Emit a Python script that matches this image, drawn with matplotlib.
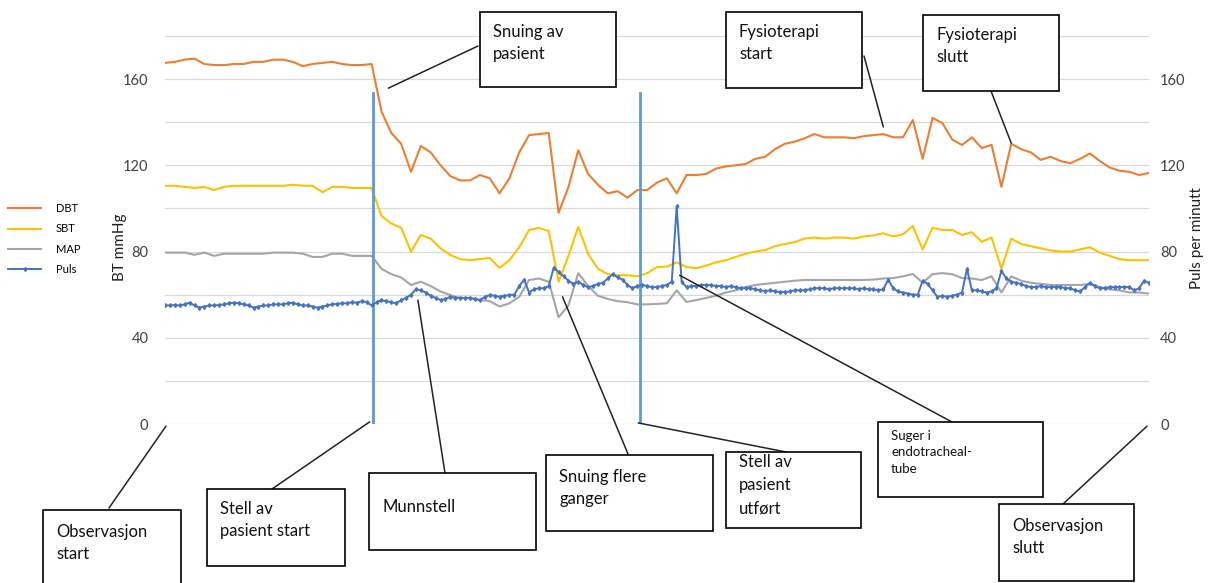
import numpy as np
import matplotlib.pyplot as plt
from matplotlib.patches import Rectangle, ConnectionPatch

# blodtrykk (mmHg), en verdi per måling
dbt = [167.5, 168, 169, 169.5, 167, 166.5, 166.5, 167, 167, 168,
       168, 169, 169, 168, 166, 167, 167.5, 168, 167, 166.5,
       166.5, 167, 145, 135, 130, 117, 129, 126, 120, 115,
       113, 113, 115.5, 114, 107, 114, 126, 134, 134.5, 135,
       98, 110, 127, 116, 111, 107, 108, 105, 108.5, 108.5,
       112, 114, 107, 115.5, 115.5, 116, 118.5, 119.5, 120, 120.6,
       123, 124, 127.5, 130, 131, 132.5, 134.5, 133, 133, 133,
       132.6, 133.5, 134, 134.5, 133, 133, 141, 123, 142, 139.6,
       132, 129.4, 133, 128, 129.5, 110, 130, 127.5, 126, 122.5,
       124, 122, 121, 123, 125.5, 122, 119, 117.5, 117, 115.5,
       116.5]
sbt = [110.5, 110.5, 110, 109.5, 110, 108.5, 110, 110.5, 110.5, 110.5,
       110.5, 110.5, 110.5, 111, 110.5, 110.5, 107.5, 110, 110, 109.5,
       109.5, 109.5, 96.5, 93, 91, 80, 87.7, 86, 81.5, 78.4,
       76.5, 76, 76.5, 77, 72.4, 76, 82, 90, 91, 89.5,
       66, 78, 91.4, 79, 72, 69.5, 69, 69, 68.5, 70,
       72.8, 73, 75, 72.8, 72.3, 73.5, 75, 76, 77.5, 79,
       80, 80.7, 82.5, 83.5, 84.4, 86, 86.5, 86, 86.5, 86.5,
       86, 87, 87.5, 88.5, 87, 88, 91.8, 81, 91, 90,
       90, 87.7, 89, 84.5, 86.5, 72, 86, 83.5, 82.5, 81.5,
       80.5, 80, 80, 81, 82, 79.5, 78, 76.5, 76, 76,
       76]
map_ = [79.5, 79.5, 79.5, 78.5, 79.5, 78, 79, 79, 79, 79,
        79, 79.5, 79.5, 79.5, 79, 77.5, 77.5, 79, 79, 78,
        78, 78, 72, 69.5, 68, 64.5, 66, 64, 61.5, 59.8,
        58.4, 58.4, 57.5, 57, 54.5, 56, 59, 66.8, 67.5, 66,
        49.5, 55, 70, 64, 59.5, 58, 57, 56.5, 55.5, 55.5,
        55.7, 56, 62, 56.6, 57.5, 58.5, 59.5, 61, 62, 63.5,
        64.5, 65, 65.5, 66, 66.5, 66.8, 66.8, 66.8, 66.8, 66.8,
        66.8, 66.8, 67, 67.5, 67.7, 68.5, 69.6, 65.5, 69.5, 70,
        69.5, 67.7, 67.5, 66.8, 68.5, 61, 68.5, 66.5, 65.5, 65,
        64.5, 64.5, 64.5, 64.5, 65, 63.5, 62.5, 62, 61, 61,
        60.5]

# puls (slag/min), målt dobbelt så ofte
puls = [55, 55, 55.2, 55, 55.5, 56.3, 55, 54, 54.5, 55,
        55, 55.2, 55.5, 56, 56.3, 56, 55.5, 55, 54, 54.5,
        55, 55, 55.5, 55.5, 55.5, 56, 56.2, 55.5, 55, 55,
        54.5, 54, 54.5, 55, 55.5, 55.7, 56, 56, 56.5, 56.3,
        57, 56.5, 55, 56.5, 57.5, 57, 56.5, 56, 57.5, 58.5,
        60, 62.5, 62, 61, 59.5, 58.5, 57.5, 58, 59, 58.5,
        58.5, 58.5, 58.5, 58, 57.5, 59, 59.8, 59.5, 59, 59.5,
        59.8, 60, 64, 67, 61, 62.5, 63, 63, 64, 72.5,
        70.5, 68.5, 66.5, 65, 66, 64.5, 63.5, 64, 65, 65.5,
        67.5, 69.5, 68, 67, 64.5, 63, 64, 64.5, 64, 63.5,
        63.5, 64, 64.5, 66, 101, 66, 63.5, 64, 64, 64.5,
        64.5, 64.5, 64, 64, 63.5, 64, 63.5, 63, 63, 63,
        62.5, 62, 61.7, 62, 61.5, 61.2, 61.2, 61.5, 62, 62,
        62, 62.5, 63, 63, 63, 62.5, 63, 63, 63, 63,
        63, 62.5, 63, 62.5, 62.5, 62, 62.5, 67, 63, 61.5,
        61, 60.5, 60, 60, 66.5, 65, 62, 59, 59.5, 59,
        59.5, 60, 61, 72, 62, 62, 61.5, 61, 61.5, 63,
        71, 67.5, 66, 65.5, 65, 64, 63.5, 63.5, 64, 63.5,
        63.5, 63.5, 63.5, 63, 63, 62, 61.5, 63.5, 65.5, 64,
        63, 63, 63.5, 63.5, 63.5, 63.5, 63.5, 62, 63, 66.5,
        65.5]

y_ticks = [0, 40, 80, 120, 160]

# hendelser: (tekst, boks i piksler x0, y0, x1, y1, linjens start på boksen, punkt i diagrammet)
events = [
    ("Snuing av\npasient", (480, 12, 616, 87), (478, 46), (22.7, 155.8), 12),
    ("Fysioterapi\nstart", (726, 12, 862, 88), (864, 56), (73.0, 137.8), 12),
    ("Fysioterapi\nslutt", (923, 15, 1059, 91), (991, 91), (86.0, 130.3), 12),
    ("Observasjon\nstart", (43, 510, 181, 590), (109, 508), (0.1, -1), 14),
    ("Stell av\npasient start", (207, 489, 345, 566), (272, 489), (20.8, 1), 12),
    ("Munnstell", (369, 473, 536, 550), (445, 473), (25.7, 57.5), 26),
    ("Snuing flere\nganger", (546, 455, 713, 531), (628, 454), (40.4, 59), 14),
    ("Stell av\npasient\nutført", (726, 452, 861, 528), (786, 452), (48.1, 0.5), 2),
    ("Suger i\nendotracheal-\ntube", (878, 422, 1043, 497), (952, 422), (52.3, 69), 8),
    ("Observasjon\nslutt", (999, 504, 1134, 581), (1063, 504), (99.8, -1), 14),
]
stell_start, stell_slutt = 21.1, 48.3

W, H = 1210, 583
fig = plt.figure(figsize=(W / 100, H / 100), dpi=100)
plt.rcParams['font.family'] = ['Lato', 'DejaVu Sans']

ax = fig.add_axes([165 / W, 0.2727, 984 / W, 0.6656])
ax2 = ax.twinx()

x_bt = np.arange(len(dbt))
x_puls = np.linspace(0, len(dbt) - 1, len(puls))

l1, = ax.plot(x_bt, dbt, color='#ED7D31', lw=1.5, label='DBT')
l2, = ax.plot(x_bt, sbt, color='#FFC000', lw=1.5, label='SBT')
l3, = ax.plot(x_bt, map_, color='#A5A5A5', lw=1.5, label='MAP')
l4, = ax2.plot(x_puls, puls, color='#4472C4', lw=1.4, marker='d', ms=2,
               label='Puls')

for xv in (stell_start, stell_slutt):
    ax.plot([xv, xv], [0, 153.5], color='#5B9BD5', lw=2)

for a in (ax, ax2):
    a.set_xlim(0, len(dbt) - 1)
    a.set_ylim(0, 180)
    a.set_yticks(y_ticks)
    a.set_xticks([])
    for s in a.spines.values():
        s.set_visible(False)
    a.tick_params(which='both', length=0, labelsize=10.5, colors='#404040')

ax.set_yticks(np.arange(0, 181, 20), minor=True)
ax.grid(True, which='both', axis='y', color='#D9D9D9', lw=0.9)
ax.set_axisbelow(True)
ax.tick_params(axis='y', pad=12)
ax2.tick_params(axis='y', pad=8)

fig.text(120 / W, 1 - 247 / H, 'BT mmHg', rotation=90, ha='center',
         va='center', fontsize=11, color='#202020')
fig.text(1197 / W, 1 - 238 / H, 'Puls per minutt', rotation=90, ha='center',
         va='center', fontsize=11, color='#202020')

fig.legend(handles=[l1, l2, l3, l4], loc='upper left',
           bbox_to_anchor=(8 / W, 1 - 203 / H), frameon=False, fontsize=8,
           handlelength=3.0, handletextpad=1.3, labelspacing=0.85,
           borderpad=0, borderaxespad=0)

# tekstbokser med strek til hendelsen
for text, (x0, y0, x1, y1), (bx, by), target, pad in events:
    rect = Rectangle((x0 / W, 1 - y1 / H), (x1 - x0) / W, (y1 - y0) / H,
                     transform=fig.transFigure, fill=True, facecolor='white',
                     edgecolor='black', lw=1.2, zorder=5, clip_on=False)
    fig.patches.append(rect)
    fs = 9.5 if text.startswith('Suger') else 12
    ls = 1.55 if text.startswith('Stell av\npasient\n') else 1.45
    fig.text((x0 + 13) / W, 1 - (y0 + pad) / H, text, ha='left', va='top',
             fontsize=fs, linespacing=ls, zorder=6, color='#111111')
    con = ConnectionPatch(xyA=(bx / W, 1 - by / H), coordsA=fig.transFigure,
                          xyB=target, coordsB=ax.transData, color='#222222',
                          lw=1.1, clip_on=False)
    fig.add_artist(con)

fig.savefig('out.png', dpi=100)
